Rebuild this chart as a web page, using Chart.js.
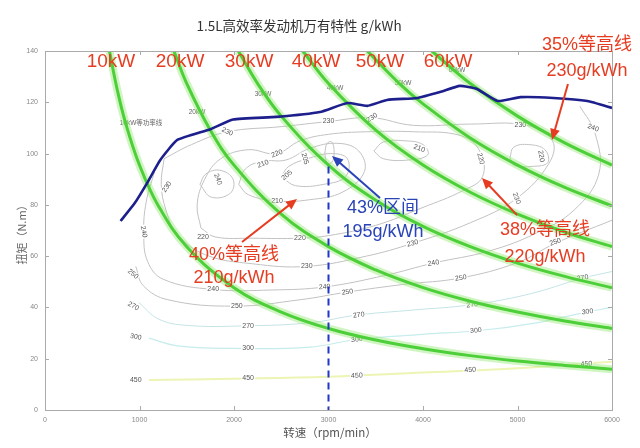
<!DOCTYPE html>
<html>
<head>
<meta charset="utf-8">
<script src="https://cdn.jsdelivr.net/npm/chart.js@4"></script>
<style>
html, body { margin: 0; padding: 0; background: #fff; }
</style>
</head>
<body>
<canvas id="bsfcChart" width="640" height="448"></canvas>
<script>
// axis ticks
const xTicks = [0, 1000, 2000, 3000, 4000, 5000, 6000];
const yTicks = [0, 20, 40, 60, 80, 100, 120, 140];

// full load torque curve (rpm / N.m)
const maxRpm = [800, 950, 1080, 1220, 1400, 1750, 1990, 2450, 2910, 3200, 3410, 3620, 3940, 4180, 4390, 4570, 4790, 5030, 5380, 5740, 6000];
const maxTorque = [73.7, 80.7, 88.5, 97.5, 105.3, 109.5, 113.3, 114.3, 116.2, 119.7, 118.6, 120.9, 121.7, 124, 126.4, 125.2, 120.5, 122, 121.7, 120.5, 117.8];

// iso-power lines [rpm, N.m]
const powerNames = ['10kW', '20kW', '30kW', '40kW', '50kW', '60kW'];
const powerTags = ['10kW等功率线', '20kW', '30kW', '40kW', '50kW', '60kW'];
const kw10 = [[682,140],[760,125.6],[850,112.3],[1000,95.5],[1200,79.6],[1500,63.7],[2000,47.7],[2500,38.2],[3000,31.8],[3500,27.3],[4000,23.9],[4500,21.2],[5000,19.1],[5500,17.4],[6000,15.9]];
const kw20 = [[1364,140],[1500,127.3],[1750,109.1],[2000,95.5],[2500,76.4],[3000,63.7],[3500,54.6],[4000,47.7],[4500,42.4],[5000,38.2],[5500,34.7],[6000,31.8]];
const kw30 = [[2046,140],[2250,127.3],[2500,114.6],[3000,95.5],[3500,81.8],[4000,71.6],[4500,63.7],[5000,57.3],[5500,52.1],[6000,47.7]];
const kw40 = [[2728,140],[3000,127.3],[3500,109.1],[4000,95.5],[4500,84.9],[5000,76.4],[5500,69.4],[6000,63.7]];
const kw50 = [[3410,140],[3750,127.3],[4000,119.4],[4500,106.1],[5000,95.5],[5500,86.8],[6000,79.6]];
const kw60 = [[4093,140],[4500,127.3],[5000,114.6],[5500,104.2],[6000,95.5]];
const powerLines = [kw10, kw20, kw30, kw40, kw50, kw60];
const powerNameRpm = [698, 1429, 2159, 2868, 3545, 4265];
const powerNameNm = 135.7;
const powerTagRpm = [1016, 1608, 2307, 3069, 3788, 4360];
const powerTagNm = [112, 116, 123, 125.6, 127.5, 132.6];

// BSFC contours g/kWh [rpm, N.m]
const c195 = [[2960,100],[2985,104],[3035,104.5],[3060,100.5],[3035,96.5],[2985,96.5],[2960,100]];
const c205 = [[2500,91],[2580,95],[2780,98],[3020,100],[3200,98],[3180,91],[2950,88],[2650,87.5],[2500,91]];
const c210a = [[2050,88],[2120,94],[2300,97],[2550,97.5],[2800,102],[3100,104],[3320,101],[3380,93],[3150,85],[2800,82],[2450,81.5],[2150,84],[2050,88]];
const c210b = [[3480,101],[3580,104.5],[3800,105],[4000,103.5],[4050,99.5],[3850,97.5],[3580,98],[3480,101]];
const c220a = [[1650,71],[1610,80],[1690,90],[1860,98],[2150,101.5],[2450,100],[2700,105],[3000,107.5],[3400,108.5],[3900,108.5],[4400,107],[4600,101],[4630,91],[4420,85.5],[4000,79],[3500,72],[3000,68],[2700,67],[2200,67],[1800,67.5],[1650,71]];
const c220b = [[4920,98.5],[4960,102.5],[5120,103.5],[5290,101.5],[5320,96.5],[5160,95],[4960,95.5],[4920,98.5]];
const c230 = [[1260,98],[1230,88],[1280,78],[1400,68.5],[1700,60.5],[2200,57],[2770,56],[3400,60],[3890,65],[4500,73],[4990,82.5],[5330,96],[5370,105],[5100,111],[4500,111.5],[3900,111],[3450,114],[3000,112.5],[2500,110.5],[1930,108.5],[1550,103.5],[1260,98]];
const c240i = [[1640,88],[1700,92],[1850,93.5],[1990,90],[1960,84.5],[1760,83],[1640,88]];
const c240 = [[1160,93],[1070,81],[1045,69],[1085,58],[1250,51],[1780,47],[2400,46.8],[2960,48],[3600,52.5],[4110,57.3],[4700,62],[5200,69],[5600,78],[5860,92],[5820,108],[5660,118.5]];
const c250 = [[960,56],[1040,48.5],[1300,43],[2000,40.5],[2700,43],[3200,46],[3800,49],[4400,51.5],[5000,57.5],[5400,65],[6000,74]];
const c270 = [[990,42],[1200,35.5],[1500,33],[2100,32.8],[2800,34],[3300,37],[3900,39],[4500,41],[5100,45],[5700,51.5],[6000,54]];
const c300 = [[1100,28],[1400,25],[2000,24],[2800,24.5],[3300,27.5],[4000,29.5],[4600,31],[5200,34],[5700,38],[6000,40]];
const c450 = [[1100,11.7],[2000,12.2],[3000,13],[4000,14.6],[5000,16.3],[6000,18.8]];

const greyContours = [c195, c205, c210a, c210b, c220a, c220b, c230, c240i, c240, c250];

// contour labels [rpm, N.m, text, angle]
const contourTags = [
  [960,11.7,'450',0],[2150,12.3,'450',0],[3300,13.4,'450',-3],[4500,15.6,'450',-4],[5730,18,'450',-4],
  [960,28.5,'300',10],[2150,24,'300',0],[3300,27.5,'300',-8],[4560,31,'300',-6],[5740,38.3,'300',-8],
  [935,40.5,'270',30],[2150,32.8,'270',0],[3320,37,'270',-8],[4520,41,'270',-6],[5690,51.5,'270',-10],
  [930,53,'250',40],[2030,40.5,'250',0],[3200,46,'250',-8],[4400,51.5,'250',-8],[5400,65.5,'250',-20],
  [1045,69.5,'240',80],[1780,47,'240',0],[2960,48,'240',-5],[4110,57.3,'240',-10],[5800,110,'240',20],[1830,90,'240',70],
  [1290,87,'230',-55],[1930,108.5,'230',25],[2770,56,'230',0],[3000,112.5,'230',0],[3460,114,'230',-35],[3890,65,'230',-15],[4990,82.5,'230',70],[5030,111,'230',0],
  [1672,67.5,'220',0],[2698,67,'220',0],[2455,100,'220',-20],[4610,98,'220',75],[5250,99,'220',80],
  [2307,96,'210',-20],[2455,81.5,'210',0],[3960,102,'210',20],
  [2560,91.5,'205',-40],[2750,98,'205',75]
];

const notes = [
  { text: ['35%等高线', '230g/kWh'], at: [5735, 142.4], step: 10.2, color: '#e63d22', from: [5534, 127.1], to: [5365, 105.3] },
  { text: ['40%等高线', '210g/kWh'], at: [2000, 60.5], step: 9.2, color: '#e63d22', from: [2085, 65.5], to: [2667, 82.3] },
  { text: ['43%区间', '195g/kWh'], at: [3577, 78.8], step: 9.4, color: '#2a44b8', from: [3545, 82.7], to: [3037, 99.1] },
  { text: ['38%等高线', '220g/kWh'], at: [5291, 70.2], step: 10.5, color: '#e63d22', from: [4995, 76], to: [4624, 90.5] }
];

const pts = a => a.map(p => ({ x: p[0], y: p[1] }));

function contourSet(arr, color, width) {
  return { data: pts(arr), borderColor: color, borderWidth: width, showLine: true, pointRadius: 0, tension: 0.4, order: 10 };
}

const datasets = [];
greyContours.forEach(c => datasets.push(contourSet(c, '#c2c2c2', 1)));
datasets.push(contourSet(c270, '#c4e4e6', 1));
datasets.push(contourSet(c300, '#c6ecec', 1.2));
datasets.push(contourSet(c450, '#eef4b4', 2));

powerLines.forEach(line => {
  datasets.push({ data: pts(line), borderColor: 'rgba(150,232,120,0.45)', borderWidth: 8, showLine: true, pointRadius: 0, tension: 0.4, order: 6 });
  datasets.push({ data: pts(line), borderColor: '#4ccf38', borderWidth: 3, showLine: true, pointRadius: 0, tension: 0.4, order: 5 });
});

datasets.push({
  data: maxRpm.map((r, i) => ({ x: r, y: maxTorque[i] })),
  borderColor: '#1d1f8c', borderWidth: 2.6, showLine: true, pointRadius: 0, tension: 0.15, order: 2
});

datasets.push({
  data: [{ x: 3000, y: 95 }, { x: 3000, y: 0 }],
  borderColor: '#2236c8', borderWidth: 2, borderDash: [7, 5], showLine: true, pointRadius: 0, order: 1
});

function arrow(ctx, x1, y1, x2, y2, color) {
  const a = Math.atan2(y2 - y1, x2 - x1), h = 12;
  ctx.strokeStyle = color;
  ctx.lineWidth = 2;
  ctx.beginPath();
  ctx.moveTo(x1, y1);
  ctx.lineTo(x2 - Math.cos(a) * h * 0.7, y2 - Math.sin(a) * h * 0.7);
  ctx.stroke();
  ctx.fillStyle = color;
  ctx.beginPath();
  ctx.moveTo(x2, y2);
  ctx.lineTo(x2 - h * Math.cos(a - 0.42), y2 - h * Math.sin(a - 0.42));
  ctx.lineTo(x2 - h * Math.cos(a + 0.42), y2 - h * Math.sin(a + 0.42));
  ctx.closePath();
  ctx.fill();
}

const mapPlugin = {
  id: 'mapPlugin',
  afterDatasetDraw(chart, args) {
    if (args.index !== 0) return;
    const ctx = chart.ctx, xs = chart.scales.x, ys = chart.scales.y;
    ctx.save();
    ctx.font = '7px "Liberation Sans", "DejaVu Sans"';
    ctx.textAlign = 'center';
    ctx.textBaseline = 'middle';
    contourTags.forEach(t => {
      const px = xs.getPixelForValue(t[0]), py = ys.getPixelForValue(t[1]);
      ctx.save();
      ctx.translate(px, py);
      ctx.rotate(t[3] * Math.PI / 180);
      const w = ctx.measureText(t[2]).width;
      ctx.fillStyle = '#fff';
      ctx.fillRect(-w / 2 - 1, -4, w + 2, 8);
      ctx.fillStyle = '#555';
      ctx.fillText(t[2], 0, 0);
      ctx.restore();
    });
    ctx.font = '6.5px "Liberation Sans", "Noto Sans CJK SC"';
    ctx.fillStyle = '#666';
    powerTags.forEach((t, i) => {
      ctx.fillText(t, xs.getPixelForValue(powerTagRpm[i]), ys.getPixelForValue(powerTagNm[i]));
    });
    ctx.restore();
  },
  afterDatasetsDraw(chart) {
    const ctx = chart.ctx, xs = chart.scales.x, ys = chart.scales.y, a = chart.chartArea;
    ctx.save();
    // box and inward ticks
    ctx.strokeStyle = '#aaa';
    ctx.lineWidth = 1;
    ctx.strokeRect(a.left + 0.5, a.top + 0.5, a.right - a.left, a.bottom - a.top);
    ctx.beginPath();
    xTicks.forEach(v => {
      const px = Math.round(xs.getPixelForValue(v)) + 0.5;
      ctx.moveTo(px, a.bottom); ctx.lineTo(px, a.bottom - 4);
      ctx.moveTo(px, a.top); ctx.lineTo(px, a.top + 4);
    });
    yTicks.forEach(v => {
      const py = Math.round(ys.getPixelForValue(v)) + 0.5;
      ctx.moveTo(a.left, py); ctx.lineTo(a.left + 4, py);
      ctx.moveTo(a.right, py); ctx.lineTo(a.right - 4, py);
    });
    ctx.stroke();

    // big power labels
    ctx.textAlign = 'center';
    ctx.textBaseline = 'middle';
    ctx.font = '19px "Liberation Sans", "Noto Sans CJK SC"';
    ctx.fillStyle = '#e63d22';
    powerNames.forEach((n, i) => {
      ctx.fillText(n, xs.getPixelForValue(powerNameRpm[i]), ys.getPixelForValue(powerNameNm));
    });

    // efficiency notes
    notes.forEach(n => {
      ctx.fillStyle = n.color;
      ctx.font = '18px "Liberation Sans", "Noto Sans CJK SC"';
      n.text.forEach((t, k) => {
        ctx.fillText(t, xs.getPixelForValue(n.at[0]), ys.getPixelForValue(n.at[1] - k * n.step));
      });
      arrow(ctx, xs.getPixelForValue(n.from[0]), ys.getPixelForValue(n.from[1]),
        xs.getPixelForValue(n.to[0]), ys.getPixelForValue(n.to[1]), n.color);
    });

    // title and axis titles
    ctx.fillStyle = '#333';
    ctx.font = '13.5px "Noto Sans CJK SC", "Liberation Sans"';
    ctx.fillText('1.5L高效率发动机万有特性 g/kWh', 299, 26);
    ctx.fillStyle = '#555';
    ctx.font = '11.5px "Noto Sans CJK SC"';
    ctx.fillText('转速（rpm/min）', 330, 433);
    ctx.save();
    ctx.translate(22, 232);
    ctx.rotate(-Math.PI / 2);
    ctx.fillStyle = '#666';
    ctx.font = '11px "Noto Sans CJK SC"';
    ctx.fillText('扭矩（N.m）', 0, 0);
    ctx.restore();
    ctx.restore();
  }
};

const ctx1 = document.getElementById('bsfcChart').getContext('2d');
new Chart(ctx1, {
  type: 'scatter',
  data: { datasets: datasets },
  options: {
    responsive: false,
    animation: false,
    layout: { padding: { left: 0, right: 28, top: 51, bottom: 0 } },
    plugins: { legend: { display: false }, tooltip: { enabled: false } },
    scales: {
      x: {
        type: 'linear', min: 0, max: 6000,
        afterBuildTicks: s => { s.ticks = xTicks.map(v => ({ value: v })); },
        afterFit: s => { s.height = 38; },
        grid: { display: false, drawTicks: false },
        border: { display: false },
        ticks: { color: '#888', font: { size: 7, family: 'Liberation Sans' }, padding: 6, maxRotation: 0, callback: v => String(v) }
      },
      y: {
        type: 'linear', min: 0, max: 140,
        afterBuildTicks: s => { s.ticks = yTicks.map(v => ({ value: v })); },
        afterFit: s => { s.width = 45; },
        grid: { display: false, drawTicks: false },
        border: { display: false },
        ticks: { color: '#888', font: { size: 7, family: 'Liberation Sans' }, padding: 7, callback: v => String(v) }
      }
    }
  },
  plugins: [mapPlugin]
});
</script>
</body>
</html>
